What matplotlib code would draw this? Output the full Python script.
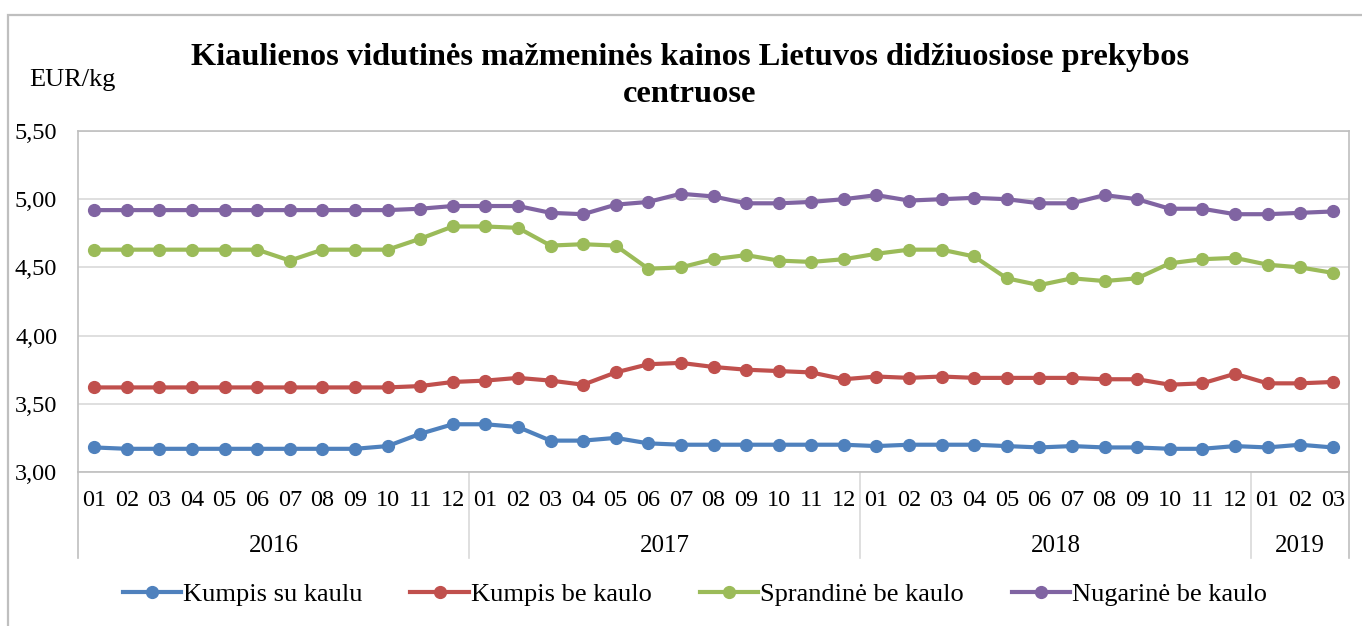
import numpy as np
import matplotlib.pyplot as plt
from matplotlib.patches import Rectangle
import matplotlib.transforms as mtransforms

plt.rcParams['font.family'] = ['Liberation Serif', 'DejaVu Serif']

# data
months = ['01', '02', '03', '04', '05', '06', '07', '08', '09', '10', '11', '12'] * 3 + ['01', '02', '03']
years = ['2016', '2017', '2018', '2019']
year_counts = [12, 12, 12, 3]

kumpis_su = [3.18, 3.17, 3.17, 3.17, 3.17, 3.17, 3.17, 3.17, 3.17, 3.19, 3.28, 3.35,
             3.35, 3.33, 3.23, 3.23, 3.25, 3.21, 3.20, 3.20, 3.20, 3.20, 3.20, 3.20,
             3.19, 3.20, 3.20, 3.20, 3.19, 3.18, 3.19, 3.18, 3.18, 3.17, 3.17, 3.19,
             3.18, 3.20, 3.18]
kumpis_be = [3.62, 3.62, 3.62, 3.62, 3.62, 3.62, 3.62, 3.62, 3.62, 3.62, 3.63, 3.66,
             3.67, 3.69, 3.67, 3.64, 3.73, 3.79, 3.80, 3.77, 3.75, 3.74, 3.73, 3.68,
             3.70, 3.69, 3.70, 3.69, 3.69, 3.69, 3.69, 3.68, 3.68, 3.64, 3.65, 3.72,
             3.65, 3.65, 3.66]
sprandine = [4.63, 4.63, 4.63, 4.63, 4.63, 4.63, 4.55, 4.63, 4.63, 4.63, 4.71, 4.80,
             4.80, 4.79, 4.66, 4.67, 4.66, 4.49, 4.50, 4.56, 4.59, 4.55, 4.54, 4.56,
             4.60, 4.63, 4.63, 4.58, 4.42, 4.37, 4.42, 4.40, 4.42, 4.53, 4.56, 4.57,
             4.52, 4.50, 4.46]
nugarine = [4.92, 4.92, 4.92, 4.92, 4.92, 4.92, 4.92, 4.92, 4.92, 4.92, 4.93, 4.95,
            4.95, 4.95, 4.90, 4.89, 4.96, 4.98, 5.04, 5.02, 4.97, 4.97, 4.98, 5.00,
            5.03, 4.99, 5.00, 5.01, 5.00, 4.97, 4.97, 5.03, 5.00, 4.93, 4.93, 4.89,
            4.89, 4.90, 4.91]

series = [('Kumpis su kaulu', kumpis_su, '#4F81BD'),
          ('Kumpis be kaulo', kumpis_be, '#C0504D'),
          ('Sprandinė be kaulo', sprandine, '#9BBB59'),
          ('Nugarinė be kaulo', nugarine, '#8064A2')]

W, H = 1362, 626
fig = plt.figure(figsize=(W / 100, H / 100), dpi=100)

# outer chart border
fig.patches.append(Rectangle((8 / W, -0.1), 1.1, (H - 15) / H + 0.1, transform=fig.transFigure,
                             fill=False, edgecolor='#BFBFBF', linewidth=1.6))

left, right, top, bottom = 78, 1349, 131, 472
ax = fig.add_axes([left / W, (H - bottom) / H, (right - left) / W, (bottom - top) / H])

x = np.arange(len(months))
for name, vals, col in series:
    ax.plot(x, vals, color=col, linewidth=3.0, marker='o', markersize=8.5, label=name)

ax.set_xlim(-0.5, len(months) - 0.5)
ax.set_ylim(3.0, 5.5)
yt = np.arange(3.0, 5.51, 0.5)
ax.set_yticks(yt)
ax.set_yticklabels([f'{v:.2f}'.replace('.', ',') for v in yt], fontsize=17.5)
ax.yaxis.grid(True, color='#D9D9D9', linewidth=1.2)
ax.set_axisbelow(True)
ax.tick_params(axis='y', length=0, pad=15)
ax.set_xticks(x)
ax.set_xticklabels(months, fontsize=17.5)
ax.tick_params(axis='x', length=0, pad=13)
for s in ax.spines.values():
    s.set_color('#BFBFBF')
    s.set_linewidth(1.2)

# year labels and group separators below the month labels
trans = mtransforms.blended_transform_factory(ax.transData, ax.transAxes)
axis_h = bottom - top
sep_bottom = -(558 - bottom) / axis_h
start = 0
for yr, n in zip(years, year_counts):
    ax.text(start + (n - 1) / 2, -(546 - bottom) / axis_h, yr, transform=trans,
            ha='center', va='center', fontsize=18)
    start += n
edges = np.cumsum([0] + year_counts) - 0.5
for e in edges:
    ax.plot([e, e], [0, sep_bottom], transform=trans, color='#D9D9D9' if 0 < e < len(months) - 1 else '#BFBFBF',
            linewidth=1.2, clip_on=False)

fig.text(690 / W, 1 - 76 / H, 'Kiaulienos vidutinės mažmeninės kainos Lietuvos didžiuosiose prekybos\ncentruose',
         ha='center', va='center', fontsize=23.3, fontweight='bold', linespacing=1.4)
fig.text(72 / W, 1 - 80 / H, 'EUR/kg', ha='center', va='center', fontsize=19)

fig.legend(loc='center', bbox_to_anchor=(695 / W, 1 - 594 / H), ncol=4, frameon=False,
           fontsize=19, handlelength=2.2, handletextpad=0.1, columnspacing=1.8)

plt.savefig('out.png', dpi=100)
